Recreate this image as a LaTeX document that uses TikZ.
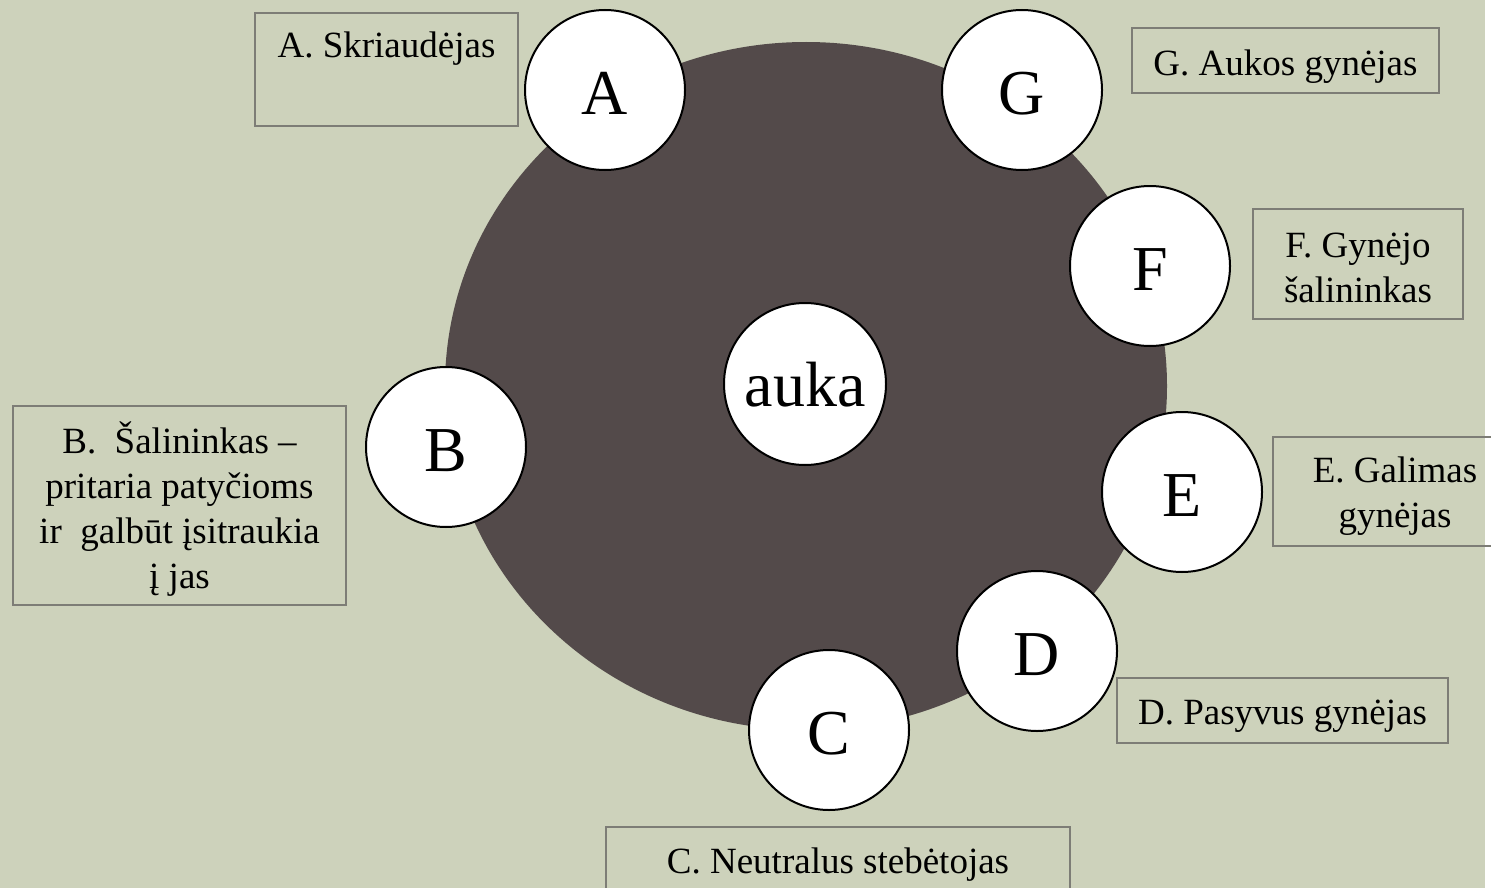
\documentclass[tikz,border=0pt]{standalone}
\usepackage{fontspec}
\setmainfont{Liberation Serif}
\definecolor{bgsage}{RGB}{205,210,187}
\definecolor{darkhub}{RGB}{83,74,74}
\definecolor{boxline}{RGB}{125,125,118}
\begin{document}
\begin{tikzpicture}[x=1pt,y=-1pt,
  role/.style={circle, draw=black, line width=2pt, fill=white, minimum size=160pt, inner sep=0pt, text height=49pt, text depth=0pt, font=\fontsize{64}{70}\selectfont},
  labelbox/.style={draw=boxline, line width=1.5pt, inner sep=0pt},
  boxtext/.style={inner sep=0pt, align=center, font=\fontsize{37}{45}\selectfont}
]
\fill[white] (0,0) rectangle (1491,888);
\useasboundingbox (0,0) rectangle (1491,888);
\fill[bgsage] (0,0) rectangle (1485,888);
\fill[darkhub] (806,386) ellipse [x radius=361, y radius=344];

% label boxes
\node[labelbox, minimum width=263pt, minimum height=113pt] (boxA) at (386.5,69.5) {};
\node[boxtext, anchor=base] (txtA) at (386.5,58) {A. Skriaudėjas};
\node[labelbox, minimum width=307pt, minimum height=65pt] (boxG) at (1285.5,60.5) {};
\node[boxtext, yshift=-6pt] (txtG) at (boxG.center) {G. Aukos gynėjas};
\node[labelbox, minimum width=210pt, minimum height=110pt] (boxF) at (1358,264) {};
\node[boxtext, yshift=-4pt] (txtF) at (boxF.center) {F. Gynėjo\\šalininkas};
\node[labelbox, minimum width=244pt, minimum height=109pt] (boxE) at (1395,491.5) {};
\node[boxtext, yshift=-4.5pt] (txtE) at (boxE.center) {E. Galimas\\gynėjas};
\node[labelbox, minimum width=331pt, minimum height=65pt] (boxD) at (1282.5,710.5) {};
\node[boxtext, yshift=-6pt] (txtD) at (boxD.center) {D. Pasyvus gynėjas};
\node[labelbox, minimum width=464pt, minimum height=66pt] (boxC) at (838,860) {};
\node[boxtext, yshift=-5pt] (txtC) at (boxC.center) {C. Neutralus stebėtojas};
\node[labelbox, minimum width=333pt, minimum height=199pt] (boxB) at (179.5,505.5) {};
\node[boxtext, yshift=-3.5pt] (txtB) at (boxB.center) {B.\ \ Šalininkas –\\pritaria patyčioms\\ir\ \ galbūt įsitraukia\\į jas};

% role circles
\node[role] (A) at (605,90) {A};
\node[role] (G) at (1022,90) {G};
\node[role] (F) at (1150,266) {F};
\node[role] (E) at (1182,492) {E};
\node[role] (D) at (1037,651) {D};
\node[role] (C) at (829,730) {C};
\node[role] (B) at (446,447) {B};
\node[role, minimum size=162pt, text height=44pt] (auka) at (805,384) {auka};
\end{tikzpicture}
\end{document}
